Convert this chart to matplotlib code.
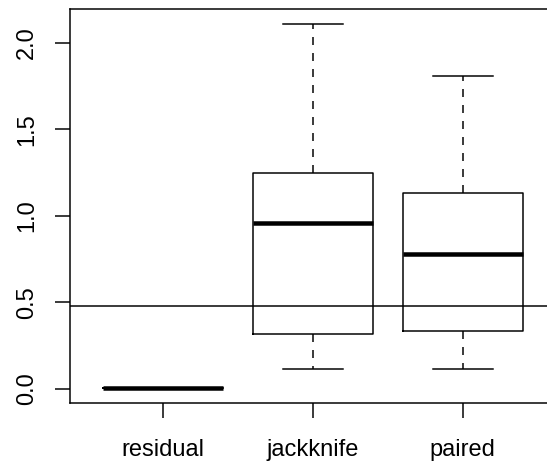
import numpy as np
import matplotlib
matplotlib.use("Agg")
import matplotlib.pyplot as plt

# Box plot summary
methods = ["residual", "jackknife", "paired"]
whisker_low = [0.005, 0.114, 0.117]
q1 = [0.005, 0.315, 0.336]
medians = [0.005, 0.959, 0.780]
q3 = [0.005, 1.247, 1.132]
whisker_high = [0.005, 2.109, 1.805]
ref_value = 0.48

plt.rcParams["font.family"] = ["Liberation Sans", "DejaVu Sans"]
plt.rcParams["lines.scale_dashes"] = False

lw = 1.08
fig = plt.figure(figsize=(5.47, 4.66), dpi=100)
ax = fig.add_axes([69.5 / 547, 63.3 / 466, 486 / 547, 393.4 / 466])

stats = []
for i, name in enumerate(methods):
    stats.append({
        "label": name,
        "whislo": whisker_low[i],
        "q1": q1[i],
        "med": medians[i],
        "q3": q3[i],
        "whishi": whisker_high[i],
    })

ax.bxp(
    stats,
    positions=[1, 2, 3],
    widths=0.8,
    capwidths=0.4,
    showfliers=False,
    boxprops=dict(color="black", linewidth=lw),
    medianprops=dict(color="black", linewidth=3.24, solid_capstyle="butt"),
    whiskerprops=dict(color="black", linewidth=lw, linestyle=(0, (5.76, 5.76))),
    capprops=dict(color="black", linewidth=lw),
)

# reference line
ax.axhline(ref_value, color="black", linewidth=lw)

ax.set_xlim(0.38, 3.62)
ax.set_ylim(-0.079, 2.193)
ax.set_yticks([0.0, 0.5, 1.0, 1.5, 2.0])
ax.set_yticklabels(["0.0", "0.5", "1.0", "1.5", "2.0"], rotation=90, va="center")
ax.set_xticks([1, 2, 3])
ax.set_xticklabels(methods)

for s in ax.spines.values():
    s.set_linewidth(lw)
ax.tick_params(axis="both", length=10.8, width=lw, labelsize=17)
ax.tick_params(axis="x", pad=15)
ax.tick_params(axis="y", pad=12)

fig.savefig("out.png", dpi=100)
